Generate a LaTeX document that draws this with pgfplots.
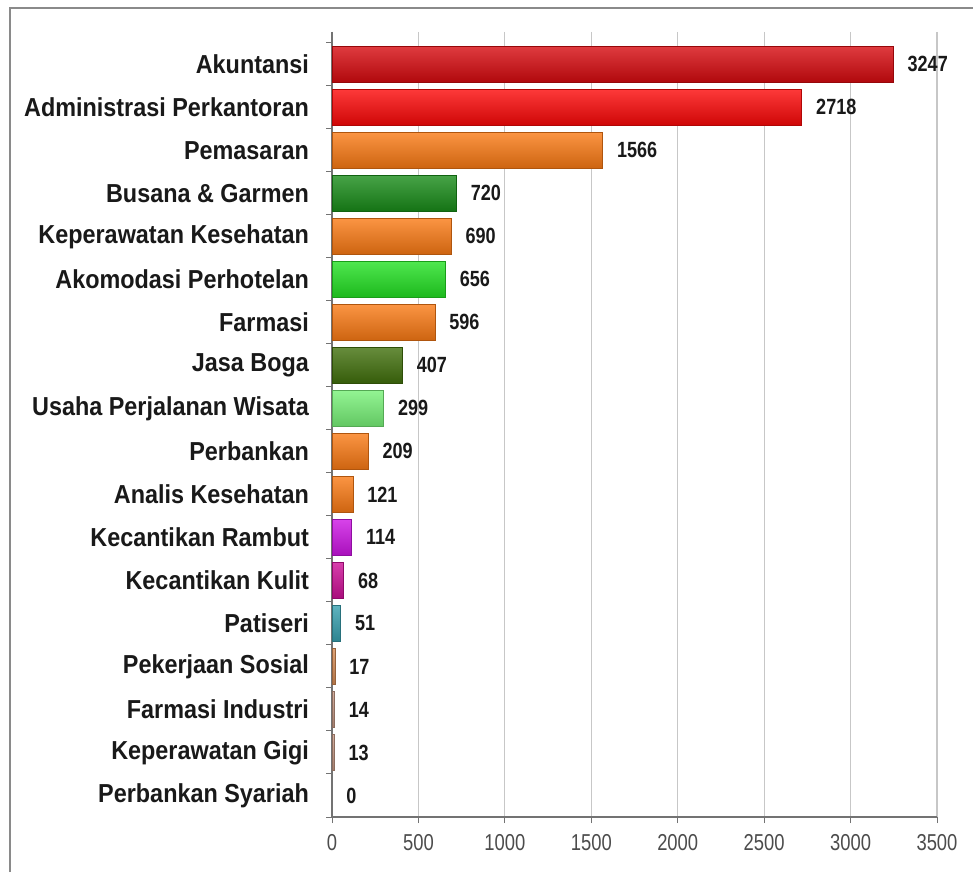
\documentclass[border=0pt]{standalone}
\usepackage{pgfplots}
\pgfplotsset{compat=1.18}
\usepackage{fontspec}
\setmainfont{Liberation Sans}
\newfontfamily\labfont{Liberation Sans}[FakeStretch=0.9]
\newfontfamily\valfont{Liberation Sans}[FakeStretch=0.82]
\newfontfamily\tickfont{Liberation Sans}[FakeStretch=0.8]
\definecolor{cDarkRed}{RGB}{215,10,15}
\definecolor{cRed}{RGB}{252,8,8}
\definecolor{cOrange}{RGB}{250,122,20}
\definecolor{cDGreen}{RGB}{25,140,25}
\definecolor{cBGreen}{RGB}{35,225,35}
\definecolor{cOlive}{RGB}{65,112,12}
\definecolor{cLGreen}{RGB}{120,242,120}
\definecolor{cPurple}{RGB}{205,20,228}
\definecolor{cPink}{RGB}{205,15,150}
\definecolor{cTeal}{RGB}{55,160,175}
\definecolor{cTan}{RGB}{215,140,85}
\definecolor{cTan2}{RGB}{200,155,135}
\definecolor{frame}{RGB}{138,138,138}
\newcommand{\bbar}[3]{\addplot[xbar, bar shift=0pt, bar width=0.84, draw=#1!70!black, line width=0.4pt, top color=#1!80!white, middle color=#1, bottom color=#1!82!black] coordinates {(#2,#3)};}
\begin{document}
\begin{tikzpicture}
\path[use as bounding box, fill=white] (0,0) rectangle (486.5pt,436pt);
\draw[frame, line width=1.4pt] (5pt,0) -- (5pt,432pt) -- (486.5pt,432pt);
\begin{axis}[
  at={(166pt,27.5pt)}, anchor=south west,
  scale only axis, width=302.5pt, height=392.5pt,
  xmin=0, xmax=3500, ymin=-0.75, ymax=17.5, y dir=reverse,
  axis x line*=bottom, axis y line*=left,
  axis line style={draw=black!55, line width=0.6pt},
  xtick={0,500,...,3500},
  scaled x ticks=false,
  /pgf/number format/1000 sep={},
  /pgf/number format/assume math mode=true,
  xmajorgrids, major grid style={draw=black!22, line width=0.6pt},
  tick align=outside,
  major tick length=3pt, minor tick length=3pt,
  tick style={draw=black!55, line width=0.5pt},
  major y tick style={draw=none},
  ytick={0,...,17},
  minor ytick={-0.5,0.5,...,17.5},
  yticklabels={Akuntansi, Administrasi Perkantoran, Pemasaran, Busana \& Garmen, Keperawatan Kesehatan, Akomodasi Perhotelan, Farmasi, Jasa Boga, Usaha Perjalanan Wisata, Perbankan, Analis Kesehatan, Kecantikan Rambut, Kecantikan Kulit, Patiseri, Pekerjaan Sosial, Farmasi Industri, Keperawatan Gigi, Perbankan Syariah},
  yticklabel style={font=\labfont\bfseries\fontsize{13}{15}\selectfont, text=black!90, xshift=-5pt},
  xticklabel style={font=\tickfont\fontsize{11.5}{13}\selectfont, text=black!70, yshift=-2pt},
  point meta=x,
  nodes near coords,
  nodes near coords={\pgfmathprintnumber[fixed,precision=0,1000 sep={},assume math mode=true]{\pgfplotspointmeta}},
  every node near coord/.append style={font=\valfont\bfseries\fontsize{11}{13}\selectfont, text=black!90, anchor=west, inner sep=0pt, xshift=7pt},
]
\bbar{cDarkRed}{3247}{0}
\bbar{cRed}{2718}{1}
\bbar{cOrange}{1566}{2}
\bbar{cDGreen}{720}{3}
\bbar{cOrange}{690}{4}
\bbar{cBGreen}{656}{5}
\bbar{cOrange}{596}{6}
\bbar{cOlive}{407}{7}
\bbar{cLGreen}{299}{8}
\bbar{cOrange}{209}{9}
\bbar{cOrange}{121}{10}
\bbar{cPurple}{114}{11}
\bbar{cPink}{68}{12}
\bbar{cTeal}{51}{13}
\bbar{cTan}{17}{14}
\bbar{cTan2}{14}{15}
\bbar{cTan2}{13}{16}
\addplot[xbar, bar shift=0pt, bar width=0.84, draw=none, fill=none] coordinates {(0,17)};
\end{axis}
\end{tikzpicture}
\end{document}
